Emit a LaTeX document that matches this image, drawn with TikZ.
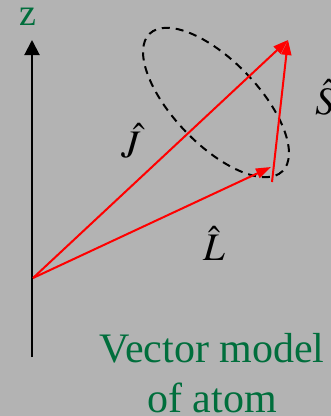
\documentclass[tikz,border=0pt]{standalone}
\usepackage{mathptmx}
\usepackage{fontspec}
\setmainfont{Liberation Serif}
\usetikzlibrary{arrows.meta}
\usepackage{xcolor}
\definecolor{panelgray}{RGB}{179,179,179}
\definecolor{labelgreen}{RGB}{0,110,60}

\begin{document}
\begin{tikzpicture}[x=1pt, y=-1pt,
      axis/.style={line width=2pt, -{Triangle[length=15pt, width=15pt]}},
      vec/.style={line width=2pt, red, -{Triangle[length=15pt, width=10pt]}},
      orbit/.style={line width=2pt, dash pattern=on 8pt off 6pt},
      lbl/.style={inner sep=0pt, anchor=base, font=\fontsize{39}{45}\selectfont},
      titletext/.style={inner sep=0pt, text=labelgreen, align=center,
                  font=\fontsize{42}{50}\selectfont}
    ]
    \fill[panelgray] (0,0) rectangle (331,416);
    \clip (0,0) rectangle (331,416);

    % z axis
    \coordinate (zbot) at (32,357);
    \coordinate (ztop) at (32,40);
    \node[inner sep=0pt, anchor=base, text=labelgreen, text height=18pt, text depth=0pt,
          font=\fontsize{38}{44}\selectfont] (zlbl) at (28,25) {z};

    % vectors
    \coordinate (orig) at (33,278);
    \coordinate (jtip) at (288,40);
    \coordinate (ltip) at (271,167);
    \coordinate (sbase) at (272,182);
    \coordinate (ctr) at (216,102.5);

    \draw[orbit, rotate around={-46:(ctr)}] (ctr) ellipse [x radius=95.6, y radius=42];
    \draw[axis] (zbot) -- (ztop);
    \draw[vec] (orig) -- (jtip);
    \draw[vec] (orig) -- (ltip);
    \draw[vec] (sbase) -- (jtip);

    \node[lbl] (jlbl) at (131,157) {$\hat{J}$};
    \node[lbl] (llbl) at (214,260) {$\hat{L}$};
    \node[lbl] (slbl) at (325,114) {$\hat{S}$};

    \node[titletext, anchor=base] (title) at (212,412) {Vector model\\of atom};
  \end{tikzpicture}
\end{document}
